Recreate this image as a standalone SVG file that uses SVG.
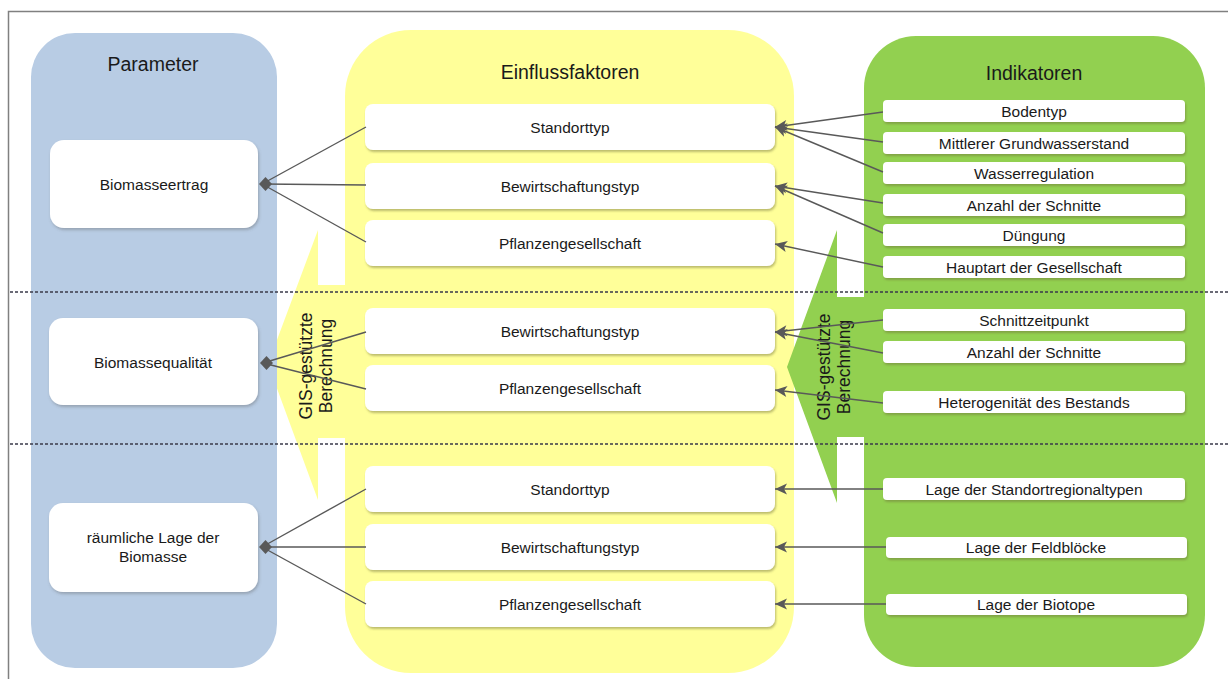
<svg xmlns="http://www.w3.org/2000/svg" width="1228" height="679" viewBox="0 0 1228 679">
<defs>
<style>
text{font-family:"Liberation Sans",Arial,sans-serif;fill:#1a1a1a;text-anchor:middle}
.title{font-size:19.5px}
.t{font-size:15.5px}
.tg{font-size:15.5px}
.gis{font-size:17.5px}
.node{fill:#fff;filter:url(#sh)}
.pnode{fill:#fff;filter:url(#sh2)}
.con line{stroke:#595959;stroke-width:1.4;fill:none}
.dia{fill:#595959}
.dash{stroke:#3a3a4a;stroke-width:1.3;stroke-dasharray:3 2}
</style>
<filter id="sh" x="-5%" y="-20%" width="110%" height="150%">
<feDropShadow dx="1" dy="2" stdDeviation="1.2" flood-color="#6b6b30" flood-opacity="0.45"/>
</filter>
<filter id="sh2" x="-5%" y="-10%" width="110%" height="130%">
<feDropShadow dx="1" dy="2" stdDeviation="1.5" flood-color="#555" flood-opacity="0.35"/>
</filter>
<marker id="arr" markerWidth="14" markerHeight="12" refX="13" refY="6" orient="auto" markerUnits="userSpaceOnUse">
<path d="M13,6 L1,0.5 L4,6 L1,11.5 Z" fill="#595959"/>
</marker>
</defs>
<rect width="1228" height="679" fill="#fff"/>
<path d="M8.5,679 V11.5 H1228" fill="none" stroke="#808080" stroke-width="1.5"/>

<g id="gis-arrow-left">
<polygon points="268,364 318,230 318,285 352,285 352,438 318,438 318,500" fill="#ffff99"/>
</g>
<g id="col-parameter">
<rect x="31" y="33" width="246" height="635" rx="44" fill="#b8cce4"/>
<text class="title" x="153" y="71">Parameter</text>
</g>
<g id="col-einfluss">
<rect x="345" y="30" width="449" height="643" rx="66" fill="#ffff99"/>
<text class="title" x="570" y="79">Einflussfaktoren</text>
</g>
<g id="gis-arrow-right">
<polygon points="787,367 837,230 837,297 872,297 872,437 837,437 837,503" fill="#92d050"/>
</g>
<g id="col-indikatoren">
<rect x="864" y="36" width="341" height="631" rx="52" fill="#92d050"/>
<text class="title" x="1034" y="80">Indikatoren</text>
</g>

<g id="gis-text-left">
<text class="gis" transform="translate(312,366) rotate(-90)" x="0" y="0">GIS-gestützte</text>
<text class="gis" transform="translate(332,366) rotate(-90)" x="0" y="0">Berechnung</text>
</g>
<g id="gis-text-right">
<text class="gis" transform="translate(830,367) rotate(-90)" x="0" y="0">GIS-gestützte</text>
<text class="gis" transform="translate(850,367) rotate(-90)" x="0" y="0">Berechnung</text>
</g>

<g id="dividers">
<line class="dash" x1="10" y1="292" x2="1228" y2="292"/>
<line class="dash" x1="10" y1="444" x2="1228" y2="444"/>
</g>

<g id="p-biomasseertrag"><rect class="pnode" x="50" y="140" width="208" height="88" rx="14"/><text class="t" x="154" y="190">Biomasseertrag</text></g>
<g id="p-biomassequalitaet"><rect class="pnode" x="49" y="318" width="209" height="87" rx="14"/><text class="t" x="153" y="368">Biomassequalität</text></g>
<g id="p-raeumliche-lage"><rect class="pnode" x="49" y="503" width="209" height="89" rx="14"/><text class="t" x="153" y="543">räumliche Lage der</text><text class="t" x="153" y="562">Biomasse</text></g>

<g id="e-standorttyp-1"><rect class="node" x="365" y="104" width="410" height="46" rx="8"/><text class="t" x="570" y="133">Standorttyp</text></g>
<g id="e-bewirtschaftungstyp-1"><rect class="node" x="365" y="163" width="410" height="46" rx="8"/><text class="t" x="570" y="192">Bewirtschaftungstyp</text></g>
<g id="e-pflanzengesellschaft-1"><rect class="node" x="365" y="220" width="410" height="46" rx="8"/><text class="t" x="570" y="249">Pflanzengesellschaft</text></g>
<g id="e-bewirtschaftungstyp-2"><rect class="node" x="365" y="308" width="410" height="46" rx="8"/><text class="t" x="570" y="337">Bewirtschaftungstyp</text></g>
<g id="e-pflanzengesellschaft-2"><rect class="node" x="365" y="365" width="410" height="46" rx="8"/><text class="t" x="570" y="394">Pflanzengesellschaft</text></g>
<g id="e-standorttyp-3"><rect class="node" x="365" y="466" width="410" height="46" rx="8"/><text class="t" x="570" y="495">Standorttyp</text></g>
<g id="e-bewirtschaftungstyp-3"><rect class="node" x="365" y="524" width="410" height="46" rx="8"/><text class="t" x="570" y="553">Bewirtschaftungstyp</text></g>
<g id="e-pflanzengesellschaft-3"><rect class="node" x="365" y="581" width="410" height="46" rx="8"/><text class="t" x="570" y="610">Pflanzengesellschaft</text></g>

<g id="i-bodentyp"><rect class="node" x="883" y="100" width="302" height="22" rx="4"/><text class="tg" x="1034" y="116.5">Bodentyp</text></g>
<g id="i-grundwasserstand"><rect class="node" x="883" y="132" width="302" height="22" rx="4"/><text class="tg" x="1034" y="148.5">Mittlerer Grundwasserstand</text></g>
<g id="i-wasserregulation"><rect class="node" x="883" y="162" width="302" height="22" rx="4"/><text class="tg" x="1034" y="178.5">Wasserregulation</text></g>
<g id="i-anzahl-schnitte-1"><rect class="node" x="883" y="194" width="302" height="22" rx="4"/><text class="tg" x="1034" y="210.5">Anzahl der Schnitte</text></g>
<g id="i-duengung"><rect class="node" x="883" y="224" width="302" height="22" rx="4"/><text class="tg" x="1034" y="240.5">Düngung</text></g>
<g id="i-hauptart"><rect class="node" x="883" y="256" width="302" height="22" rx="4"/><text class="tg" x="1034" y="272.5">Hauptart der Gesellschaft</text></g>
<g id="i-schnittzeitpunkt"><rect class="node" x="883" y="309" width="302" height="22" rx="4"/><text class="tg" x="1034" y="325.5">Schnittzeitpunkt</text></g>
<g id="i-anzahl-schnitte-2"><rect class="node" x="883" y="341" width="302" height="22" rx="4"/><text class="tg" x="1034" y="357.5">Anzahl der Schnitte</text></g>
<g id="i-heterogenitaet"><rect class="node" x="883" y="391" width="302" height="22" rx="4"/><text class="tg" x="1034" y="407.5">Heterogenität des Bestands</text></g>
<g id="i-standortregionaltypen"><rect class="node" x="883" y="478" width="302" height="22" rx="4"/><text class="tg" x="1034" y="494.5">Lage der Standortregionaltypen</text></g>
<g id="i-feldbloecke"><rect class="node" x="886" y="537" width="301" height="21" rx="4"/><text class="tg" x="1036" y="553">Lage der Feldblöcke</text></g>
<g id="i-biotope"><rect class="node" x="886" y="594" width="301" height="21" rx="4"/><text class="tg" x="1036" y="610">Lage der Biotope</text></g>

<g id="connectors" class="con">
<line x1="366" y1="127" x2="262" y2="184"/>
<line x1="366" y1="185" x2="262" y2="184"/>
<line x1="366" y1="242" x2="262" y2="184"/>
<polygon class="dia" points="259,184 265.5,177 272,184 265.5,191"/>
<line x1="366" y1="332" x2="263" y2="363"/>
<line x1="366" y1="389" x2="263" y2="363"/>
<polygon class="dia" points="260,363 266.5,356 273,363 266.5,370"/>
<line x1="366" y1="489" x2="262" y2="547"/>
<line x1="366" y1="547" x2="262" y2="547"/>
<line x1="366" y1="604" x2="262" y2="547"/>
<polygon class="dia" points="259,547 265.5,540 272,547 265.5,554"/>
<line x1="883" y1="112" x2="775" y2="127" marker-end="url(#arr)"/>
<line x1="883" y1="142" x2="775" y2="127" marker-end="url(#arr)"/>
<line x1="883" y1="172" x2="775" y2="127" marker-end="url(#arr)"/>
<line x1="883" y1="203" x2="775" y2="186" marker-end="url(#arr)"/>
<line x1="883" y1="233" x2="775" y2="186" marker-end="url(#arr)"/>
<line x1="883" y1="267" x2="775" y2="244" marker-end="url(#arr)"/>
<line x1="883" y1="320" x2="775" y2="332" marker-end="url(#arr)"/>
<line x1="883" y1="353" x2="775" y2="332" marker-end="url(#arr)"/>
<line x1="883" y1="403" x2="775" y2="390" marker-end="url(#arr)"/>
<line x1="883" y1="489" x2="775" y2="489" marker-end="url(#arr)"/>
<line x1="886" y1="547" x2="775" y2="547" marker-end="url(#arr)"/>
<line x1="886" y1="604" x2="775" y2="604" marker-end="url(#arr)"/>
</g>
</svg>
